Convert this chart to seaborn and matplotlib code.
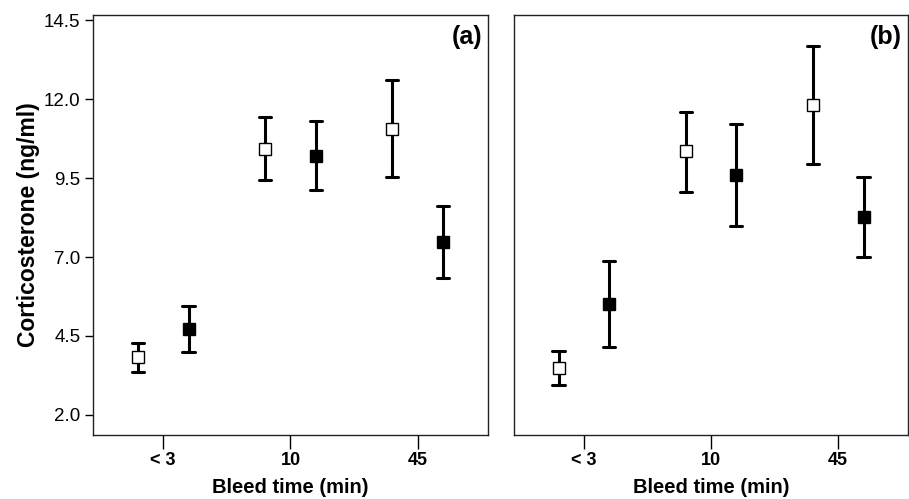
import matplotlib
matplotlib.use("Agg")
import matplotlib.pyplot as plt
import pandas as pd
import seaborn as sns

# 채혈 시간 범주
times = ["< 3", "10", "45"]
groups = ["open", "filled"]

# (a) 패널 값: 평균, 오차 하한, 오차 상한
a_open_mean = [3.83, 10.43, 11.07]
a_open_lo = [3.37, 9.45, 9.53]
a_open_hi = [4.28, 11.44, 12.62]
a_fill_mean = [4.71, 10.20, 7.46]
a_fill_lo = [3.99, 9.11, 6.33]
a_fill_hi = [5.45, 11.30, 8.63]

# (b) 패널 값
b_open_mean = [3.49, 10.35, 11.83]
b_open_lo = [2.95, 9.06, 9.96]
b_open_hi = [4.02, 11.59, 13.69]
b_fill_mean = [5.52, 9.59, 8.27]
b_fill_lo = [4.15, 7.97, 7.00]
b_fill_hi = [6.88, 11.20, 9.52]

y_ticks = [2.0, 4.5, 7.0, 9.5, 12.0, 14.5]


def long_table(open_vals, fill_vals):
    # 각 점마다 (하한, 평균, 상한) 세 줄 -> median 이 평균, min/max 가 오차막대
    rows = []
    for grp, (mean, lo, hi) in zip(groups, [open_vals, fill_vals]):
        for t, m, l, h in zip(times, mean, lo, hi):
            for v in (l, m, h):
                rows.append({"time": t, "group": grp, "value": v})
    return pd.DataFrame(rows)


df_a = long_table((a_open_mean, a_open_lo, a_open_hi), (a_fill_mean, a_fill_lo, a_fill_hi))
df_b = long_table((b_open_mean, b_open_lo, b_open_hi), (b_fill_mean, b_fill_lo, b_fill_hi))

sns.set_style("ticks")
plt.rcParams["font.family"] = ["Liberation Sans", "DejaVu Sans"]
plt.rcParams["text.color"] = "black"
plt.rcParams["axes.labelcolor"] = "black"
plt.rcParams["xtick.color"] = "black"
plt.rcParams["ytick.color"] = "black"

fig = plt.figure(figsize=(9.09, 4.99), dpi=100)
ax_a = fig.add_axes([0.1023, 0.1283, 0.4345, 0.8417])
ax_b = fig.add_axes([0.5655, 0.1283, 0.4334, 0.8417])

for ax, df, tag in [(ax_a, df_a, "(a)"), (ax_b, df_b, "(b)")]:
    sns.pointplot(data=df, x="time", y="value", hue="group", order=times, hue_order=groups,
                  estimator="median", errorbar=lambda v: (v.min(), v.max()),
                  dodge=0.4, markers="s", linestyles="none", capsize=0.095,
                  palette={"open": "black", "filled": "black"},
                  err_kws={"linewidth": 2.2, "color": "black"},
                  markersize=9, markeredgewidth=1.0, legend=False, ax=ax)
    marker_lines = [ln for ln in ax.lines if ln.get_marker() == "s"]
    marker_lines[0].set_markerfacecolor("white")  # 열린 사각형
    for ln in marker_lines:
        ln.set_markeredgecolor("black")
        ln.set_zorder(5)

    ax.set_xlim(-0.55, 2.55)
    ax.set_ylim(1.36, 14.67)
    ax.set_xlabel("Bleed time (min)", fontsize=14.5, fontweight="bold", labelpad=7)
    ax.set_ylabel("")
    ax.tick_params(axis="x", length=10, width=1, pad=2, labelsize=13)
    for lab in ax.get_xticklabels():
        lab.set_fontweight("bold")
    for s in ax.spines.values():
        s.set_linewidth(1.0)
        s.set_color("#222222")
    ax.text(0.985, 0.975, tag, transform=ax.transAxes, ha="right", va="top",
            fontsize=18, fontweight="bold")

ax_a.set_yticks(y_ticks)
ax_a.set_yticklabels([f"{v:.1f}" for v in y_ticks])
ax_a.tick_params(axis="y", length=6, width=1, pad=3, labelsize=13.5)
ax_a.set_ylabel("Corticosterone (ng/ml)", fontsize=16.5, fontweight="bold", labelpad=3)

ax_b.set_yticks([])

fig.savefig("out.png", dpi=100)
